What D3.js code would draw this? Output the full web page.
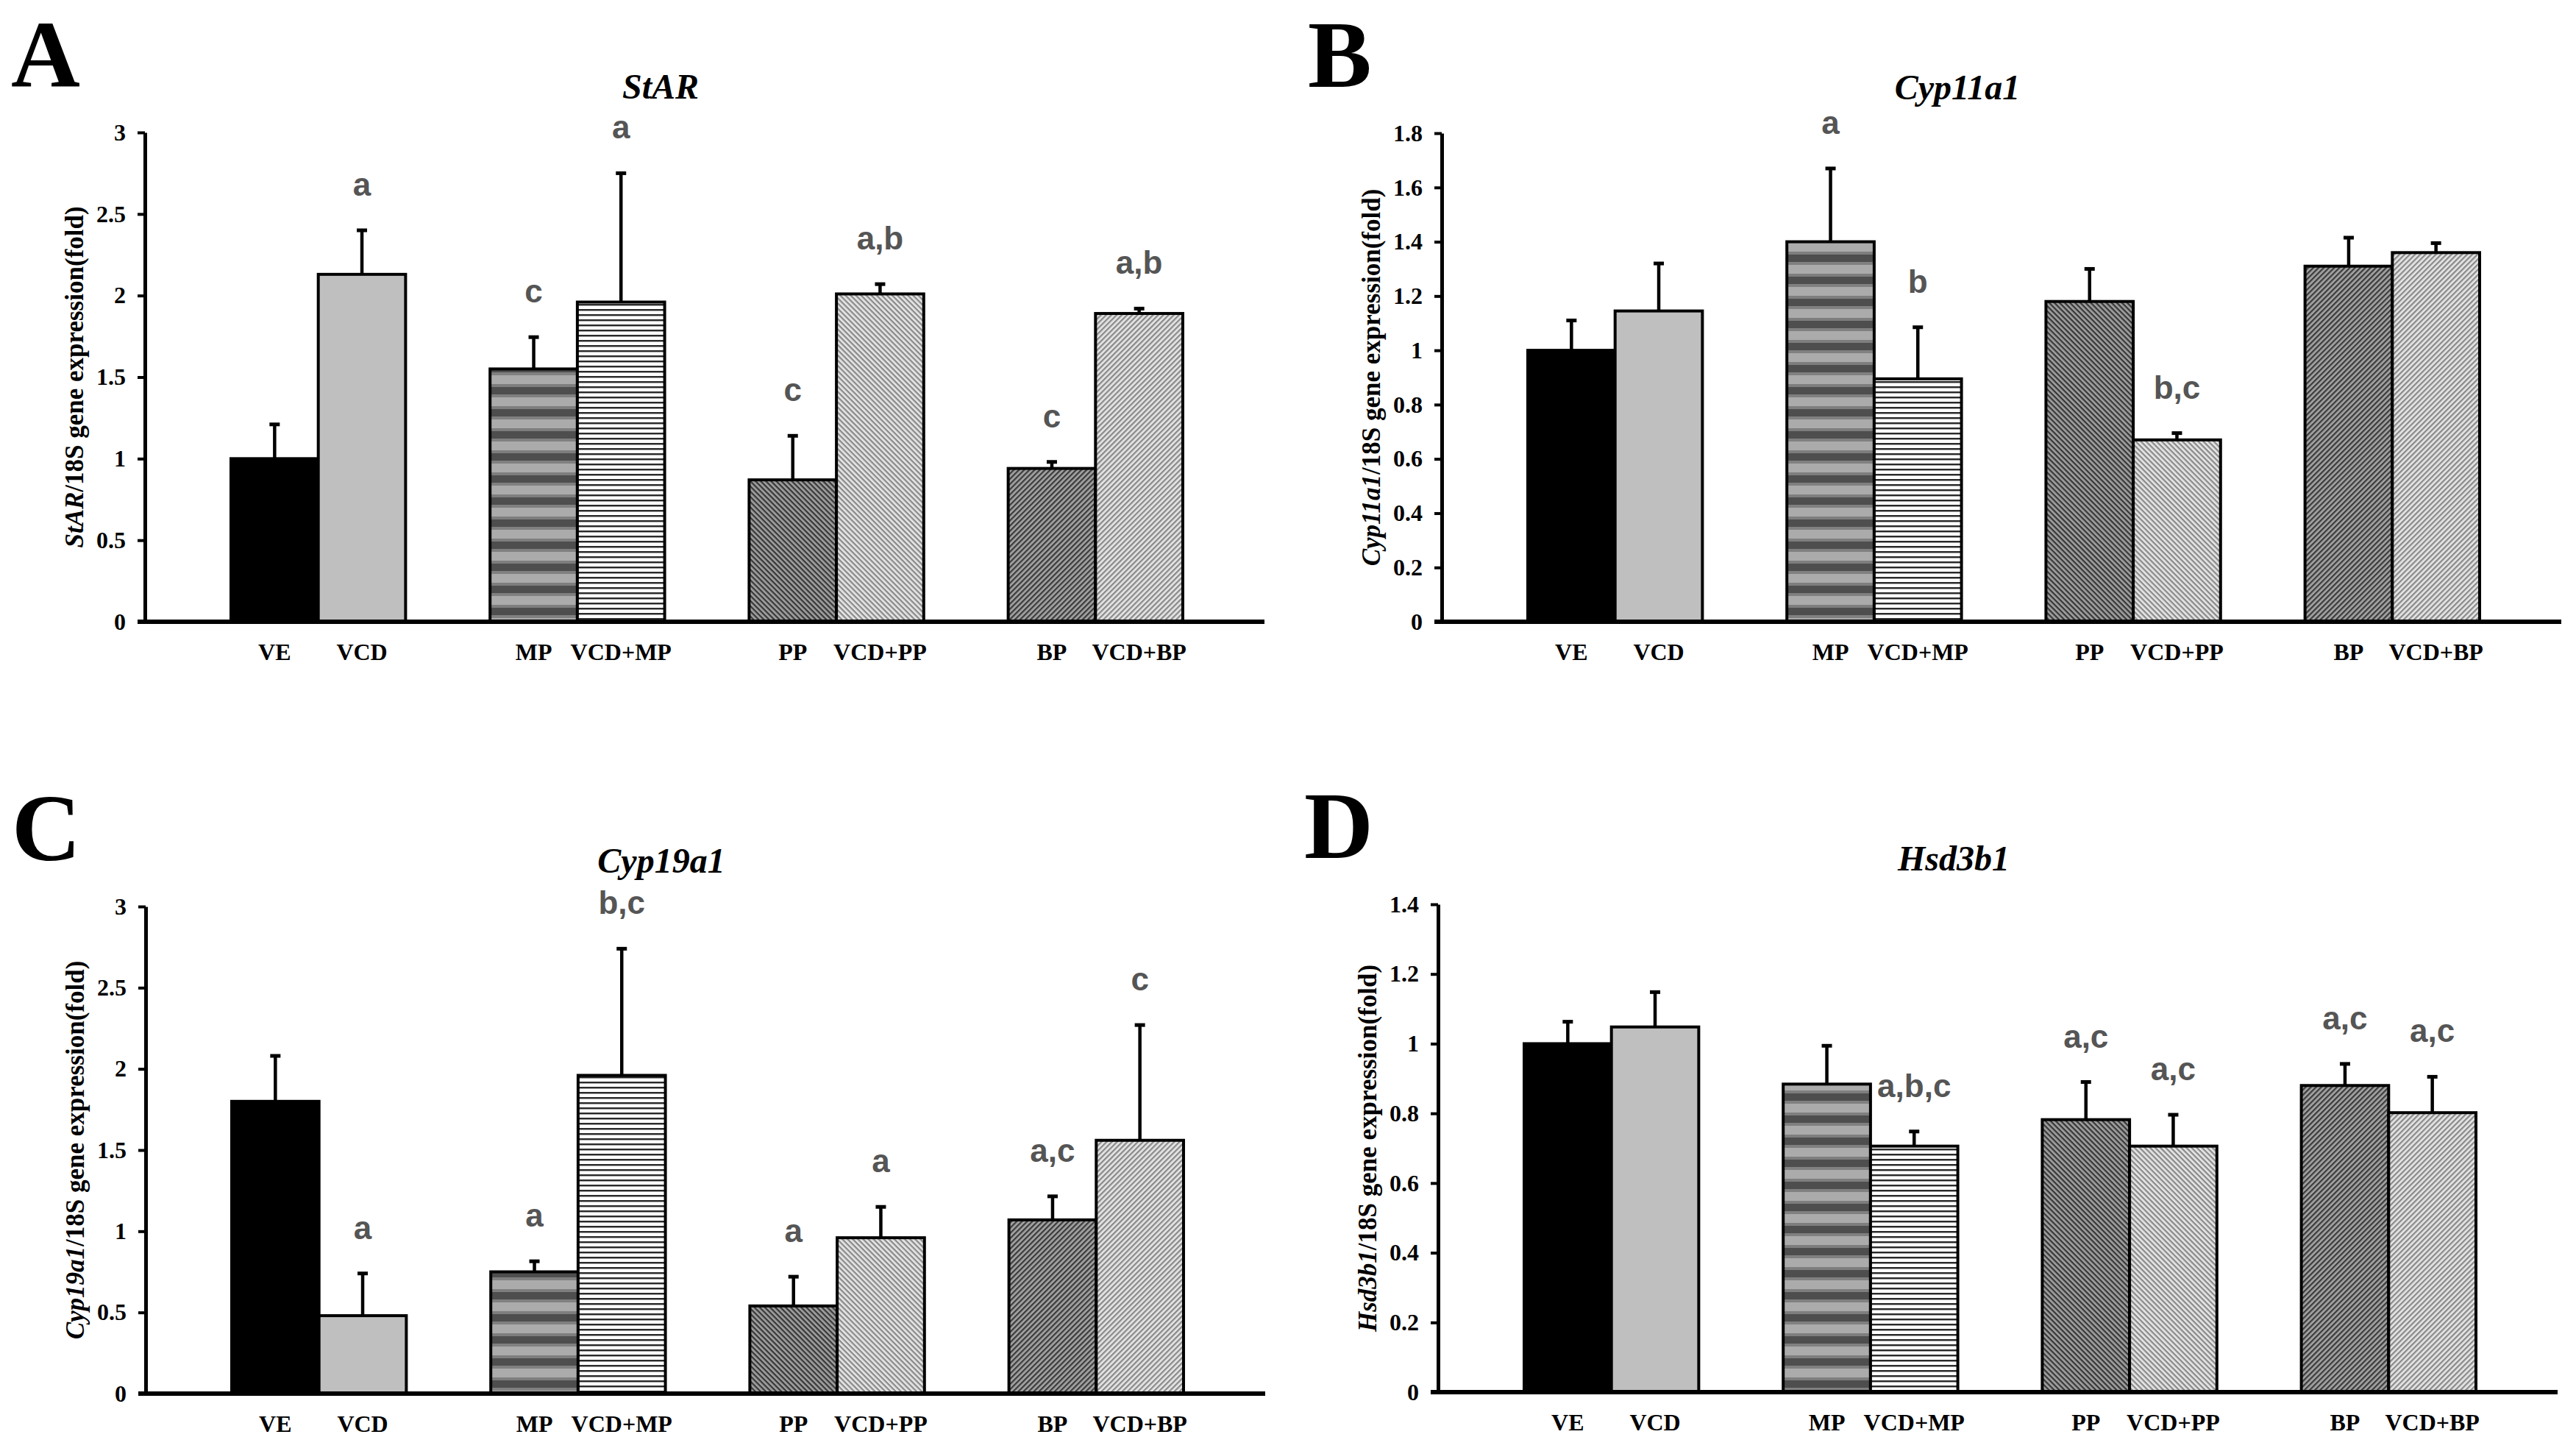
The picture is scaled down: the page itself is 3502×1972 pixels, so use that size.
<!DOCTYPE html>
<html>
<head>
<meta charset="utf-8">
<script src="https://cdn.jsdelivr.net/npm/d3@7"></script>
<style>
  body { margin: 0; background: #fff; }
  svg { display: block; }
</style>
</head>
<body>
<div id="chart"></div>
<script>
// ---- data ----
const groups = ["VE", "MP", "PP", "BP"];
const treatments = ["control", "VCD"];
const barLabels = ["VE", "VCD", "MP", "VCD+MP", "PP", "VCD+PP", "BP", "VCD+BP"];

const starMean = [1.00, 2.13, 1.55, 1.96, 0.87, 2.01, 0.94, 1.89];
const starErr  = [0.21, 0.27, 0.195, 0.79, 0.27, 0.06, 0.04, 0.03];
const starSig  = ["", "a", "c", "a", "c", "a,b", "c", "a,b"];
const starTicks = [0, 0.5, 1, 1.5, 2, 2.5, 3];

const cyp11Mean = [1.00, 1.145, 1.40, 0.895, 1.18, 0.67, 1.31, 1.36];
const cyp11Err  = [0.11, 0.175, 0.27, 0.19, 0.12, 0.025, 0.105, 0.035];
const cyp11Sig  = ["", "", "a", "b", "", "b,c", "", ""];
const cyp11Ticks = [0, 0.2, 0.4, 0.6, 0.8, 1, 1.2, 1.4, 1.6, 1.8];

const cyp19Mean = [1.80, 0.48, 0.75, 1.96, 0.54, 0.96, 1.07, 1.56];
const cyp19Err  = [0.28, 0.26, 0.065, 0.78, 0.18, 0.19, 0.145, 0.71];
const cyp19Sig  = ["", "a", "a", "b,c", "a", "a", "a,c", "c"];
const cyp19Ticks = [0, 0.5, 1, 1.5, 2, 2.5, 3];

const hsdMean = [1.00, 1.048, 0.884, 0.706, 0.782, 0.706, 0.880, 0.802];
const hsdErr  = [0.063, 0.10, 0.11, 0.042, 0.108, 0.09, 0.062, 0.103];
const hsdSig  = ["", "", "", "a,b,c", "a,c", "a,c", "a,c", "a,c"];
const hsdTicks = [0, 0.2, 0.4, 0.6, 0.8, 1, 1.2, 1.4];

const panels = [
  {letter: "A", gene: "StAR",    mean: starMean,  err: starErr,  sig: starSig,  ticks: starTicks},
  {letter: "B", gene: "Cyp11a1", mean: cyp11Mean, err: cyp11Err, sig: cyp11Sig, ticks: cyp11Ticks},
  {letter: "C", gene: "Cyp19a1", mean: cyp19Mean, err: cyp19Err, sig: cyp19Sig, ticks: cyp19Ticks},
  {letter: "D", gene: "Hsd3b1",  mean: hsdMean,   err: hsdErr,   sig: hsdSig,   ticks: hsdTicks}
];

// ---- layout ----
const width = 3502, height = 1972;
const layout = [
  {left: 197,  top: 180,  bottom: 845},
  {left: 1960, top: 181,  bottom: 845},
  {left: 198,  top: 1232, bottom: 1894},
  {left: 1955, top: 1229, bottom: 1892}
];
const axisLen = 1522;
const barStart = 117, barSpan = 1294;
const serif = "'Liberation Serif', 'Times New Roman', serif";
const sans = "'Liberation Sans', Arial, sans-serif";
const fills = ["url(#p-ve)", "url(#p-vcd)", "url(#p-mp)", "url(#p-vcdmp)",
               "url(#p-pp)", "url(#p-vcdpp)", "url(#p-bp)", "url(#p-vcdbp)"];

const svg = d3.select("#chart").append("svg")
    .attr("width", width)
    .attr("height", height);

svg.append("rect").attr("width", width).attr("height", height).attr("fill", "#fff");

// ---- fill patterns ----
const defs = svg.append("defs");
defs.append("pattern").attr("id", "p-ve").attr("width", 4).attr("height", 4)
    .attr("patternUnits", "userSpaceOnUse")
  .append("rect").attr("width", 4).attr("height", 4).attr("fill", "#000");
defs.append("pattern").attr("id", "p-vcd").attr("width", 4).attr("height", 4)
    .attr("patternUnits", "userSpaceOnUse")
  .append("rect").attr("width", 4).attr("height", 4).attr("fill", "#bfbfbf");

// MP: coarse grey bands
const mp = defs.append("pattern").attr("id", "p-mp").attr("width", 10).attr("height", 30)
    .attr("patternUnits", "userSpaceOnUse");
mp.append("rect").attr("width", 10).attr("height", 30).attr("fill", "#ababab");
mp.append("rect").attr("y", 12).attr("width", 10).attr("height", 4).attr("fill", "#7e7e7e");
mp.append("rect").attr("y", 16).attr("width", 10).attr("height", 10).attr("fill", "#4e4e4e");
mp.append("rect").attr("y", 26).attr("width", 10).attr("height", 4).attr("fill", "#808080");

// VCD+MP: fine horizontal lines on white
const vmp = defs.append("pattern").attr("id", "p-vcdmp").attr("width", 10).attr("height", 7)
    .attr("patternUnits", "userSpaceOnUse");
vmp.append("rect").attr("width", 10).attr("height", 7).attr("fill", "#fff");
vmp.append("rect").attr("y", 0).attr("width", 10).attr("height", 2).attr("fill", "#2a2a2a");
vmp.append("rect").attr("y", 2).attr("width", 10).attr("height", 1).attr("fill", "#a0a0a0");

function hatch(id, bg, fg, angle) {
  const p = defs.append("pattern").attr("id", id).attr("width", 5).attr("height", 5)
      .attr("patternUnits", "userSpaceOnUse")
      .attr("patternTransform", `rotate(${angle})`);
  p.append("rect").attr("width", 5).attr("height", 5).attr("fill", bg);
  p.append("rect").attr("width", 5).attr("height", 2.3).attr("fill", fg);
}
hatch("p-pp", "#a0a0a0", "#383838", 45);
hatch("p-vcdpp", "#e6e6e6", "#8a8a8a", 45);
hatch("p-bp", "#a4a4a4", "#3c3c3c", -45);
hatch("p-vcdbp", "#e6e6e6", "#8a8a8a", -45);

// ---- panels ----
panels.forEach((p, k) => {
  const L = layout[k];
  const g = svg.append("g");

  const y = d3.scaleLinear()
      .domain([0, p.ticks[p.ticks.length - 1]])
      .range([L.bottom, L.top]);

  const x0 = d3.scaleBand()
      .domain(groups)
      .range([L.left + barStart, L.left + barStart + barSpan])
      .paddingInner(0.326)
      .paddingOuter(0);

  const x1 = d3.scaleBand()
      .domain(treatments)
      .range([0, x0.bandwidth()]);

  const bars = barLabels.map((label, i) => ({
    label: label,
    group: groups[Math.floor(i / 2)],
    treat: treatments[i % 2],
    mean: p.mean[i],
    err: p.err[i],
    sig: p.sig[i],
    fill: fills[i]
  }));
  const cx = d => x0(d.group) + x1(d.treat) + x1.bandwidth() / 2;

  // panel letter
  g.append("text")
      .attr("x", L.left - 182)
      .attr("y", L.top - 63)
      .style("font-family", serif)
      .style("font-weight", "bold")
      .style("font-size", "130px")
      .text(p.letter);

  // title
  g.append("text")
      .attr("x", L.left + axisLen / 2 - 60)
      .attr("y", L.top - 46)
      .attr("text-anchor", "middle")
      .style("font-family", serif)
      .style("font-weight", "bold")
      .style("font-style", "italic")
      .style("font-size", "48px")
      .text(p.gene);

  // bars
  g.selectAll(".bar")
    .data(bars)
    .enter().append("rect")
      .attr("class", "bar")
      .attr("x", d => x0(d.group) + x1(d.treat))
      .attr("y", d => y(d.mean))
      .attr("width", x1.bandwidth())
      .attr("height", d => y(0) - y(d.mean))
      .attr("fill", d => d.fill)
      .attr("stroke", "#000")
      .attr("stroke-width", 4);

  // error bars (upper only)
  g.selectAll(".err")
    .data(bars)
    .enter().append("line")
      .attr("class", "err")
      .attr("x1", cx).attr("x2", cx)
      .attr("y1", d => y(d.mean))
      .attr("y2", d => y(d.mean + d.err))
      .attr("stroke", "#000")
      .attr("stroke-width", 4.5);

  g.selectAll(".cap")
    .data(bars)
    .enter().append("line")
      .attr("class", "cap")
      .attr("x1", d => cx(d) - 7).attr("x2", d => cx(d) + 7)
      .attr("y1", d => y(d.mean + d.err))
      .attr("y2", d => y(d.mean + d.err))
      .attr("stroke", "#000")
      .attr("stroke-width", 5);

  // significance letters
  g.selectAll(".sig")
    .data(bars.filter(d => d.sig))
    .enter().append("text")
      .attr("class", "sig")
      .attr("x", cx)
      .attr("y", d => y(d.mean + d.err) - 47)
      .attr("text-anchor", "middle")
      .style("font-family", sans)
      .style("font-weight", "bold")
      .style("font-size", "44px")
      .style("fill", "#555")
      .text(d => d.sig);

  // y axis
  const yAxis = d3.axisLeft(y)
      .tickValues(p.ticks)
      .tickSize(10)
      .tickSizeOuter(0)
      .tickPadding(16)
      .tickFormat(d3.format("~g"));

  const ya = g.append("g")
      .attr("transform", `translate(${L.left},0)`)
      .call(yAxis);
  ya.select(".domain").attr("stroke", "#000").attr("stroke-width", 5);
  ya.selectAll(".tick line").attr("stroke", "#000").attr("stroke-width", 4);
  ya.selectAll(".tick text")
      .attr("fill", "#000")
      .style("font-family", serif)
      .style("font-weight", "bold")
      .style("font-size", "32px");

  // x axis line
  g.append("line")
      .attr("x1", L.left - 10)
      .attr("x2", L.left + axisLen)
      .attr("y1", y(0)).attr("y2", y(0))
      .attr("stroke", "#000")
      .attr("stroke-width", 6);

  // x labels
  g.selectAll(".xlab")
    .data(bars)
    .enter().append("text")
      .attr("class", "xlab")
      .attr("x", cx)
      .attr("y", L.bottom + 52)
      .attr("text-anchor", "middle")
      .style("font-family", serif)
      .style("font-weight", "bold")
      .style("font-size", "32px")
      .text(d => d.label);

  // y label
  const yl = g.append("text")
      .attr("transform", `translate(${L.left - 96},${(L.top + L.bottom) / 2}) rotate(-90)`)
      .attr("text-anchor", "middle")
      .attr("dy", "0.35em")
      .style("font-family", serif)
      .style("font-weight", "bold")
      .style("font-size", "35px");
  yl.append("tspan").style("font-style", "italic").text(p.gene);
  yl.append("tspan").text("/18S gene expression(fold)");
});
</script>
</body>
</html>
